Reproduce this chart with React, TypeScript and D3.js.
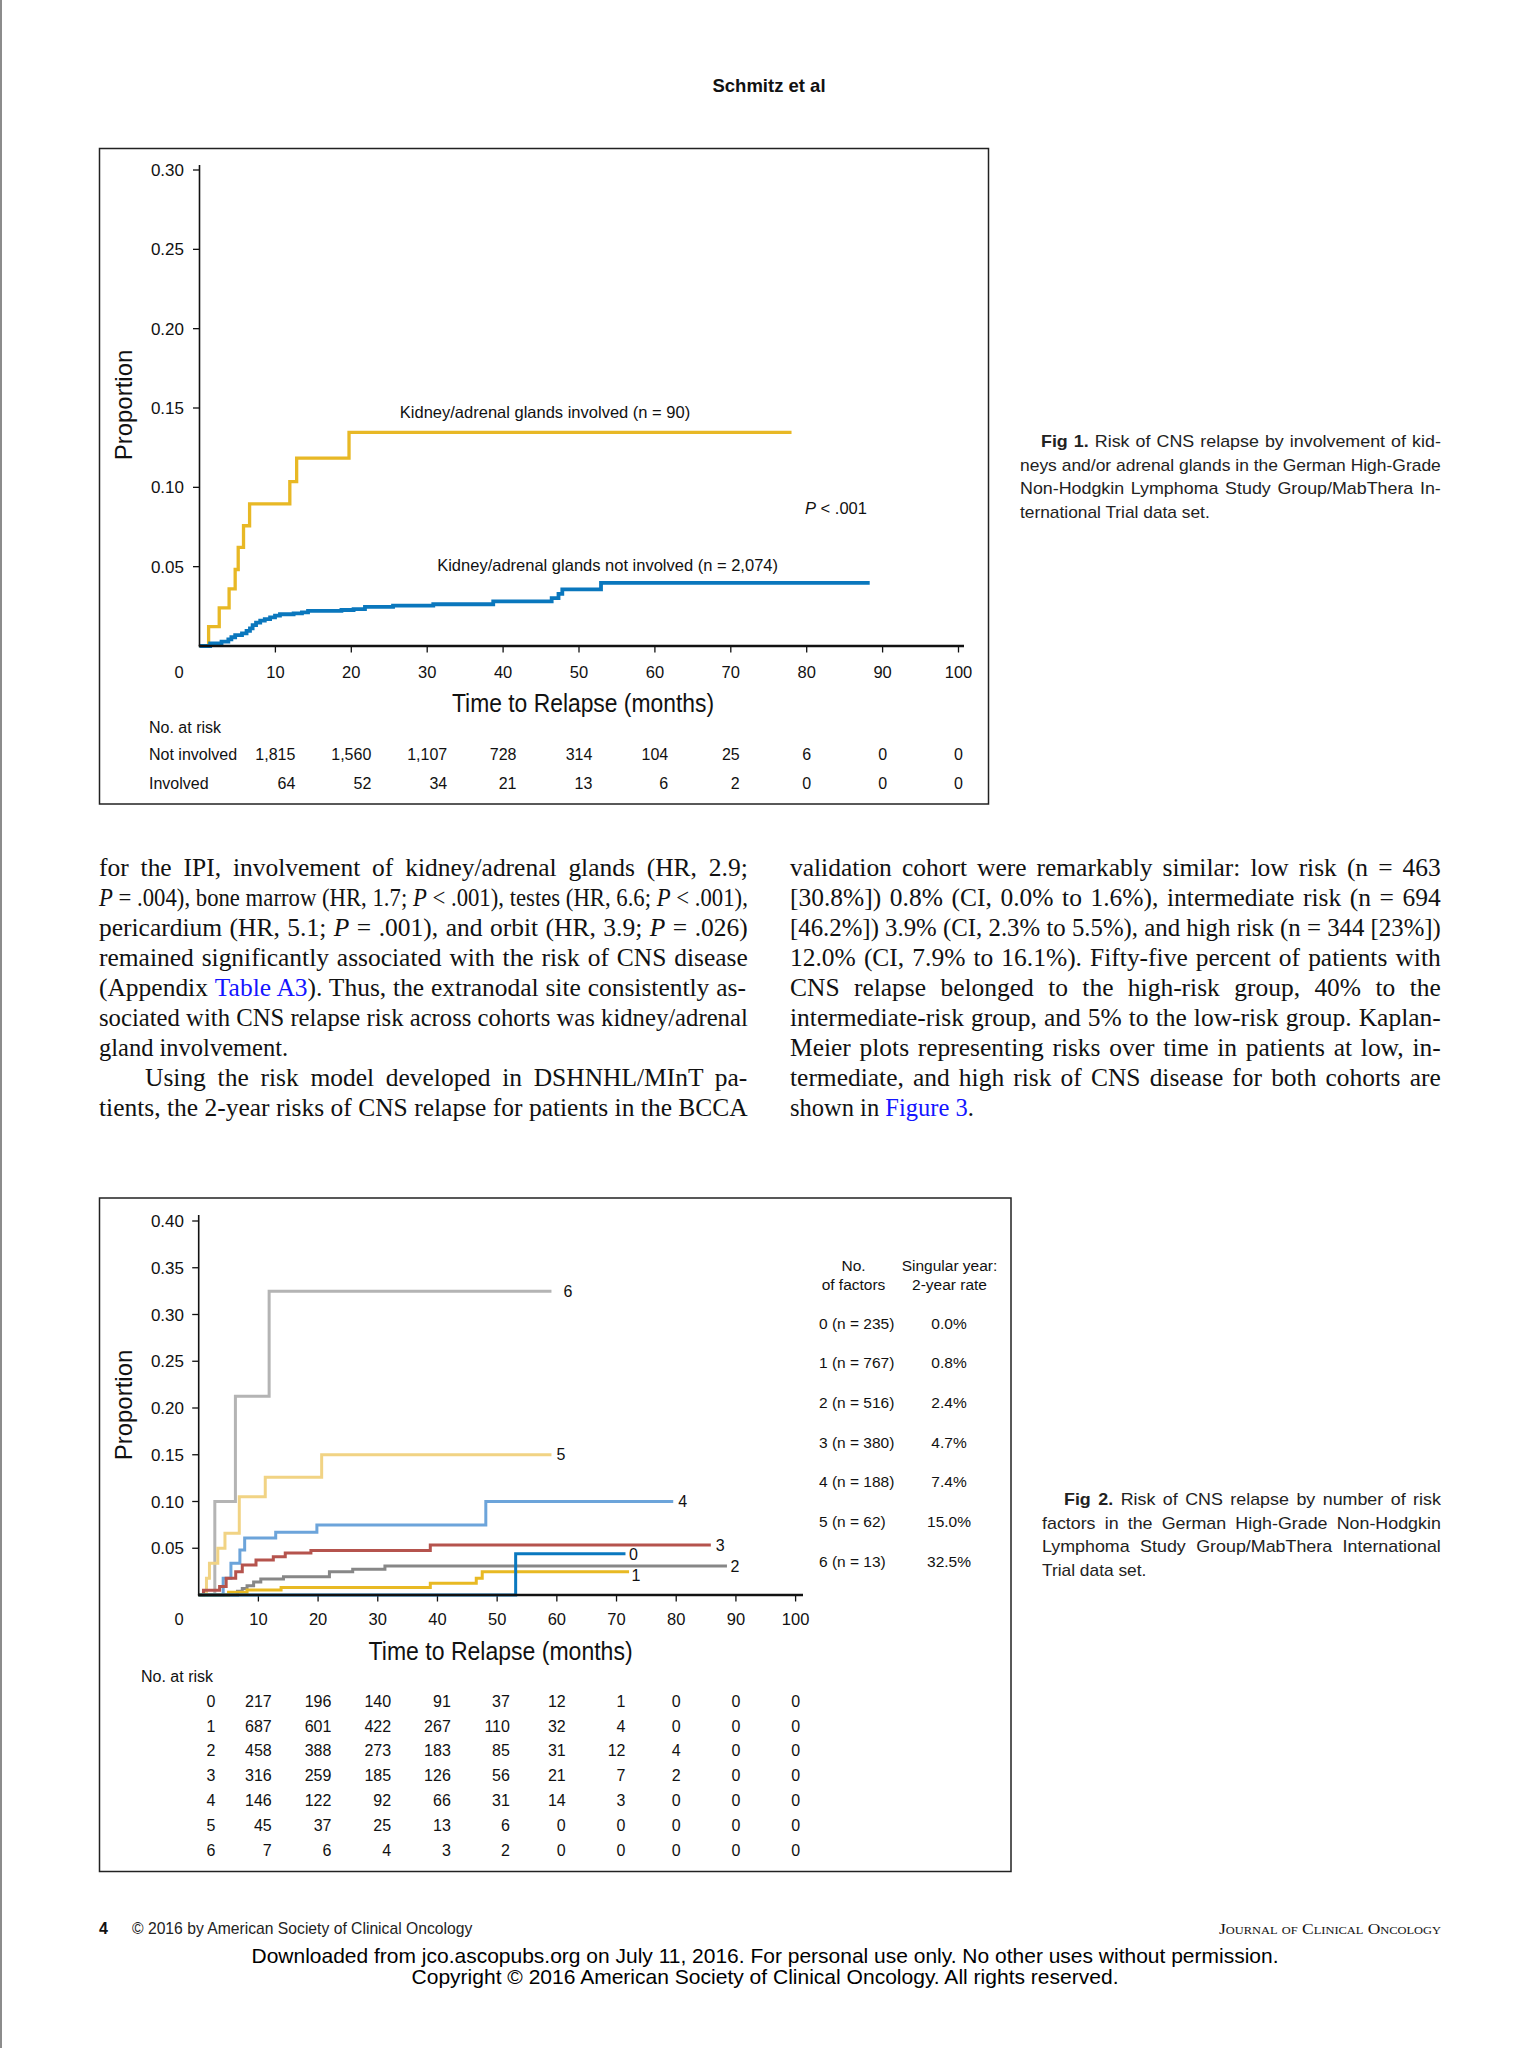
import React from 'react';
import * as d3 from 'd3';

type Pt = [number, number];
type Seg = { t: string; i?: boolean; b?: boolean; link?: boolean; fam?: string };

// ---------------- Figure 1 data ----------------
const fig1XTicks = [10, 20, 30, 40, 50, 60, 70, 80, 90, 100];
const fig1YTicks = [0.05, 0.1, 0.15, 0.2, 0.25, 0.3];
const kidneyInvolved: Pt[] = [
  [0, 0], [1.2, 0.0122], [2.6, 0.024], [3.9, 0.036], [4.7, 0.0482], [5.1, 0.0622],
  [5.8, 0.0758], [6.6, 0.0896], [11.9, 0.1036], [12.8, 0.1184], [19.7, 0.1346], [78.0, 0.1346],
];
const kidneyNotInvolved: Pt[] = [
  [0, 0], [1.4, 0.0017], [2.9, 0.0027], [3.8, 0.0042], [4.2, 0.0055], [4.7, 0.0069], [5.6, 0.008],
  [6.2, 0.0095], [6.65, 0.0111], [7.0, 0.0132], [7.45, 0.0147], [8.0, 0.016], [8.6, 0.017],
  [9.3, 0.0181], [9.95, 0.0191], [10.6, 0.02], [12.4, 0.0206], [13.5, 0.0212], [14.3, 0.0221],
  [18.7, 0.0227], [20.3, 0.0233], [21.8, 0.0246], [25.5, 0.0254], [30.8, 0.0263], [38.7, 0.0281],
  [46.4, 0.0302], [47.3, 0.0328], [47.8, 0.0357], [52.9, 0.0398], [88.3, 0.0398],
];
const riskTimes1 = [10, 20, 30, 40, 50, 60, 70, 80, 90, 100];
const riskNotInvolved = ['1,815', '1,560', '1,107', '728', '314', '104', '25', '6', '0', '0'];
const riskInvolved = ['64', '52', '34', '21', '13', '6', '2', '0', '0', '0'];

// ---------------- Figure 2 data ----------------
const fig2XTicks = [10, 20, 30, 40, 50, 60, 70, 80, 90, 100];
const fig2YTicks = [0.05, 0.1, 0.15, 0.2, 0.25, 0.3, 0.35, 0.4];
const factors0: Pt[] = [[0, 0], [53.1, 0.044], [71.5, 0.044]];
const factors1: Pt[] = [[0, 0], [5.0, 0.003], [8.1, 0.0054], [13.8, 0.008], [38.8, 0.0125], [46.5, 0.018], [47.5, 0.025], [72.1, 0.025]];
const factors2: Pt[] = [[0, 0], [6.5, 0.004], [7.3, 0.007], [8.1, 0.01], [9.2, 0.014], [10.4, 0.017], [14.2, 0.0196], [21.9, 0.025], [25.8, 0.0275], [31.2, 0.031], [88.5, 0.031]];
const factors3: Pt[] = [[0, 0], [0.8, 0.005], [3.5, 0.009], [4.6, 0.018], [6.2, 0.025], [7.3, 0.032], [9.6, 0.0375], [12.5, 0.041], [14.5, 0.045], [18.8, 0.0475], [38.8, 0.0536], [85.8, 0.0536]];
const factors4: Pt[] = [[0, 0], [4.1, 0.018], [5.4, 0.034], [6.9, 0.048], [7.7, 0.061], [12.9, 0.067], [19.8, 0.075], [48.1, 0.1], [79.5, 0.1]];
const factors5: Pt[] = [[0, 0], [1.3, 0.018], [1.8, 0.034], [3.2, 0.05], [4.4, 0.066], [6.8, 0.105], [11.15, 0.126], [20.6, 0.15], [59.1, 0.15]];
const factors6: Pt[] = [[0, 0], [2.7, 0.1], [6.15, 0.2125], [11.8, 0.325], [59.1, 0.325]];
const factorSeries = [factors0, factors1, factors2, factors3, factors4, factors5, factors6];
const factorNames = ['0', '1', '2', '3', '4', '5', '6'];
const factorLegend = ['0 (n = 235)', '1 (n = 767)', '2 (n = 516)', '3 (n = 380)', '4 (n = 188)', '5 (n = 62)', '6 (n = 13)'];
const factorRates = ['0.0%', '0.8%', '2.4%', '4.7%', '7.4%', '15.0%', '32.5%'];
const riskTimes2 = [10, 20, 30, 40, 50, 60, 70, 80, 90, 100];
const riskByFactor = [
  [217, 196, 140, 91, 37, 12, 1, 0, 0, 0],
  [687, 601, 422, 267, 110, 32, 4, 0, 0, 0],
  [458, 388, 273, 183, 85, 31, 12, 4, 0, 0],
  [316, 259, 185, 126, 56, 21, 7, 2, 0, 0],
  [146, 122, 92, 66, 31, 14, 3, 0, 0, 0],
  [45, 37, 25, 13, 6, 0, 0, 0, 0, 0],
  [7, 6, 4, 3, 2, 0, 0, 0, 0, 0],
];

// ---------------- Text content ----------------
const leftColumn: { segs: Seg[]; justify: boolean; indent?: boolean }[] = [
  { segs: [{ t: 'for the IPI, involvement of kidney/adrenal glands (HR, 2.9;' }], justify: true },
  { segs: [{ t: 'P', i: true }, { t: ' = .004), bone marrow (HR, 1.7; ' }, { t: 'P', i: true }, { t: ' < .001), testes (HR, 6.6; ' }, { t: 'P', i: true }, { t: ' < .001),' }], justify: true },
  { segs: [{ t: 'pericardium (HR, 5.1; ' }, { t: 'P', i: true }, { t: ' = .001), and orbit (HR, 3.9; ' }, { t: 'P', i: true }, { t: ' = .026)' }], justify: true },
  { segs: [{ t: 'remained significantly associated with the risk of CNS disease' }], justify: true },
  { segs: [{ t: '(Appendix ' }, { t: 'Table A3', link: true }, { t: '). Thus, the extranodal site consistently as-' }], justify: true },
  { segs: [{ t: 'sociated with CNS relapse risk across cohorts was kidney/adrenal' }], justify: true },
  { segs: [{ t: 'gland involvement.' }], justify: false },
  { segs: [{ t: 'Using the risk model developed in DSHNHL/MInT pa-' }], justify: true, indent: true },
  { segs: [{ t: 'tients, the 2-year risks of CNS relapse for patients in the BCCA' }], justify: true },
];
const rightColumn: { segs: Seg[]; justify: boolean }[] = [
  { segs: [{ t: 'validation cohort were remarkably similar: low risk (n = 463' }], justify: true },
  { segs: [{ t: '[30.8%]) 0.8% (CI, 0.0% to 1.6%), intermediate risk (n = 694' }], justify: true },
  { segs: [{ t: '[46.2%]) 3.9% (CI, 2.3% to 5.5%), and high risk (n = 344 [23%])' }], justify: true },
  { segs: [{ t: '12.0% (CI, 7.9% to 16.1%). Fifty-five percent of patients with' }], justify: true },
  { segs: [{ t: 'CNS relapse belonged to the high-risk group, 40% to the' }], justify: true },
  { segs: [{ t: 'intermediate-risk group, and 5% to the low-risk group. Kaplan-' }], justify: true },
  { segs: [{ t: 'Meier plots representing risks over time in patients at low, in-' }], justify: true },
  { segs: [{ t: 'termediate, and high risk of CNS disease for both cohorts are' }], justify: true },
  { segs: [{ t: 'shown in ' }, { t: 'Figure 3', link: true }, { t: '.' }], justify: false },
];

const SANS = "'Liberation Sans', Arial, Helvetica, sans-serif";
const NARROW = "'Liberation Sans Narrow', 'Liberation Sans', Arial, sans-serif";
const SERIF = "'Liberation Serif', 'Times New Roman', serif";

const fig1Caption: { segs: Seg[]; justify: boolean; first?: boolean }[] = [
  { segs: [{ t: 'Fig 1.', b: true, fam: NARROW }, { t: ' Risk of CNS relapse by involvement of kid-' }], justify: true, first: true },
  { segs: [{ t: 'neys and/or adrenal glands in the German High-Grade' }], justify: true },
  { segs: [{ t: 'Non-Hodgkin Lymphoma Study Group/MabThera In-' }], justify: true },
  { segs: [{ t: 'ternational Trial data set.' }], justify: false },
];
const fig2Caption: { segs: Seg[]; justify: boolean; first?: boolean }[] = [
  { segs: [{ t: 'Fig 2.', b: true, fam: NARROW }, { t: ' Risk of CNS relapse by number of risk' }], justify: true, first: true },
  { segs: [{ t: 'factors in the German High-Grade Non-Hodgkin' }], justify: true },
  { segs: [{ t: 'Lymphoma Study Group/MabThera International' }], justify: true },
  { segs: [{ t: 'Trial data set.' }], justify: false },
];

// ---------------- Styling ----------------
const factorColors = ['#0a78bf', '#e8b923', '#878787', '#b5534d', '#6ca4da', '#f1d384', '#b4b4b4'];
const factorLabelOffset: Pt[] = [[3.5, 0], [2.5, 3.5], [3.5, 0], [5, 0], [5, 0], [5, 0], [12, 0]];
const drawOrder = [6, 5, 4, 3, 2, 1, 0];

let measureCtx: CanvasRenderingContext2D | null = null;
function textWidth(t: string, font: string): number {
  if (typeof document === 'undefined') return t.length * 8;
  if (!measureCtx) measureCtx = document.createElement('canvas').getContext('2d');
  if (!measureCtx) return t.length * 8;
  measureCtx.font = font;
  return measureCtx.measureText(t).width;
}

function TextLine(props: {
  x: number; y: number; width?: number; segs: Seg[]; size: number; family: string;
  justify: boolean; fill?: string; stretch?: number; baseScale?: number;
}) {
  const { x, y, width, segs, size, family, justify, fill = '#111', stretch = 1, baseScale = 1 } = props;
  const fontOf = (g: Seg) => `${g.i ? 'italic ' : ''}${g.b ? 'bold ' : ''}${size}px ${g.fam || family}`;
  const natural = segs.reduce((s, g) => s + textWidth(g.t, fontOf(g)), 0);
  const spaces = segs.reduce((s, g) => s + (g.t.split(' ').length - 1), 0);
  let ws = 0;
  let sc = baseScale;
  if (width) {
    if (justify) {
      const ratio = width / natural;
      if (ratio >= 1) {
        sc = Math.min(ratio, stretch);
        const rest = width / sc - natural;
        ws = spaces ? rest / spaces : 0;
      } else sc = ratio;
    } else if (natural * sc > width) sc = width / natural;
  }
  return (
    <text
      transform={`translate(${x},${y}) scale(${sc},1)`}
      fontSize={size}
      fontFamily={family}
      fill={fill}
      style={{ whiteSpace: 'pre', wordSpacing: `${ws}px` }}
    >
      {segs.map((g, k) => (
        <tspan
          key={k}
          fontStyle={g.i ? 'italic' : undefined}
          fontWeight={g.b ? 'bold' : undefined}
          fontFamily={g.fam}
          fill={g.link ? '#1414ff' : undefined}
        >
          {g.t}
        </tspan>
      ))}
    </text>
  );
}

export default function App() {
  const x1 = d3.scaleLinear().domain([0, 100]).range([199.5, 958.5]);
  const y1 = d3.scaleLinear().domain([0, 0.3]).range([646, 170]);
  const line1 = d3.line<Pt>().x((d) => x1(d[0])).y((d) => y1(d[1])).curve(d3.curveStepAfter);

  const x2 = d3.scaleLinear().domain([0, 100]).range([198.7, 795.6]);
  const y2 = d3.scaleLinear().domain([0, 0.4]).range([1595, 1221]);
  const line2 = d3.line<Pt>().x((d) => x2(d[0])).y((d) => y2(d[1])).curve(d3.curveStepAfter);

  const tableFont = `16px ${SANS}`;
  const fmt2 = d3.format('.2f');

  const riskCols1 = riskTimes1.map((t, j) => {
    const vals = [riskNotInvolved[j], riskInvolved[j]];
    const w = Math.max(...vals.map((v) => textWidth(v, tableFont)));
    return { x: x1(t) + w / 2, vals };
  });
  const riskCols2 = riskTimes2.map((t, j) => {
    const vals = riskByFactor.map((r) => String(r[j]));
    const w = Math.max(...vals.map((v) => textWidth(v, tableFont)));
    return { x: x2(t) + w / 2, vals };
  });

  const lh = 30;
  const bodyTop = 875.5;
  const bodySize = 24.5;

  return (
    <svg width={1536} height={2048} style={{ position: 'absolute', left: 0, top: 0 }}>
      <rect x={0} y={0} width={1536} height={2048} fill="#ffffff" />
      <rect x={0} y={0} width={2} height={2048} fill="#8c8c8c" />

      <text x={769} y={91.5} textAnchor="middle" fontFamily={SANS} fontWeight="bold" fontSize={18.5} fill="#111">
        Schmitz et al
      </text>

      {/* ================= Figure 1 ================= */}
      <rect x={99.5} y={148.5} width={889} height={655.5} fill="none" stroke="#222" strokeWidth={1.5} />
      <g fontFamily={SANS} fill="#111">
        {fig1YTicks.map((v) => (
          <g key={v}>
            <line x1={x1(0) - 6.5} x2={x1(0)} y1={y1(v)} y2={y1(v)} stroke="#111" strokeWidth={1.3} />
            <text x={184} y={y1(v) + 6} textAnchor="end" fontSize={17}>{fmt2(v)}</text>
          </g>
        ))}
        {fig1XTicks.map((v) => (
          <g key={v}>
            <line x1={x1(v)} x2={x1(v)} y1={y1(0)} y2={y1(0) + 6.5} stroke="#111" strokeWidth={1.3} />
            <text x={x1(v)} y={678} textAnchor="middle" fontSize={16.5}>{v}</text>
          </g>
        ))}
        <text x={179} y={678} textAnchor="middle" fontSize={16.5}>0</text>
      </g>
      <path d={line1(kidneyInvolved) || ''} fill="none" stroke="#e8b825" strokeWidth={3.3} />
      <path d={line1(kidneyNotInvolved) || ''} fill="none" stroke="#0a77bd" strokeWidth={3.8} />
      <line x1={x1(0)} x2={x1(0)} y1={165} y2={y1(0)} stroke="#111" strokeWidth={1.6} />
      <line x1={x1(0) - 0.8} x2={964} y1={y1(0)} y2={y1(0)} stroke="#111" strokeWidth={2.4} />

      <text transform="translate(132,405) rotate(-90)" textAnchor="middle" fontFamily={SANS} fontSize={24} fill="#111">Proportion</text>
      <text x={583} y={712} textAnchor="middle" fontFamily={NARROW} fontSize={25} fill="#111" textLength={262} lengthAdjust="spacingAndGlyphs">Time to Relapse (months)</text>

      <g fontFamily={SANS} fontSize={16.5} fill="#111">
        <text x={545} y={418} textAnchor="middle">Kidney/adrenal glands involved (n = 90)</text>
        <text x={805} y={514}><tspan fontStyle="italic">P</tspan> &lt; .001</text>
        <text x={607.6} y={571} textAnchor="middle">Kidney/adrenal glands not involved (n = 2,074)</text>
      </g>

      <g fontFamily={SANS} fontSize={16} fill="#111">
        <text x={149} y={732.5}>No. at risk</text>
        <text x={149} y={759.7}>Not involved</text>
        <text x={149} y={788.7}>Involved</text>
        {riskCols1.map((c, j) => (
          <g key={j}>
            <text x={c.x} y={759.7} textAnchor="end">{c.vals[0]}</text>
            <text x={c.x} y={788.7} textAnchor="end">{c.vals[1]}</text>
          </g>
        ))}
      </g>

      {fig1Caption.map((ln, k) => (
        <TextLine
          key={k}
          x={ln.first ? 1041 : 1020}
          y={447 + k * 23.5}
          width={ln.justify ? (ln.first ? 400 : 421) : 421}
          segs={ln.segs}
          size={17}
          family={SANS}
          justify={ln.justify}
          fill="#222"
          stretch={1.05}
          baseScale={1.02}
        />
      ))}

      {/* ================= Body text ================= */}
      {leftColumn.map((ln, k) => (
        <TextLine
          key={k}
          x={ln.indent ? 145 : 99}
          y={bodyTop + k * lh}
          width={ln.indent ? 603 : 649}
          segs={ln.segs}
          size={bodySize}
          family={SERIF}
          justify={ln.justify}
          stretch={1.04}
          baseScale={1.0}
        />
      ))}
      {rightColumn.map((ln, k) => (
        <TextLine
          key={k}
          x={790}
          y={bodyTop + k * lh}
          width={651}
          segs={ln.segs}
          size={bodySize}
          family={SERIF}
          justify={ln.justify}
          stretch={1.04}
          baseScale={1.0}
        />
      ))}

      {/* ================= Figure 2 ================= */}
      <rect x={99.5} y={1198} width={911.5} height={673.5} fill="none" stroke="#222" strokeWidth={1.5} />
      <g fontFamily={SANS} fill="#111">
        {fig2YTicks.map((v) => (
          <g key={v}>
            <line x1={x2(0) - 6.5} x2={x2(0)} y1={y2(v)} y2={y2(v)} stroke="#111" strokeWidth={1.3} />
            <text x={184} y={y2(v) + 6} textAnchor="end" fontSize={17}>{fmt2(v)}</text>
          </g>
        ))}
        {fig2XTicks.map((v) => (
          <g key={v}>
            <line x1={x2(v)} x2={x2(v)} y1={y2(0)} y2={y2(0) + 6.5} stroke="#111" strokeWidth={1.3} />
            <text x={x2(v)} y={1625} textAnchor="middle" fontSize={16.5}>{v}</text>
          </g>
        ))}
        <text x={179} y={1625} textAnchor="middle" fontSize={16.5}>0</text>
      </g>
      {drawOrder.map((k) => (
        <path key={k} d={line2(factorSeries[k]) || ''} fill="none" stroke={factorColors[k]} strokeWidth={3} />
      ))}
      <line x1={x2(0)} x2={x2(0)} y1={1215} y2={y2(0)} stroke="#111" strokeWidth={1.6} />
      <line x1={x2(0) - 0.8} x2={803} y1={y2(0)} y2={y2(0)} stroke="#111" strokeWidth={2.4} />
      <g fontFamily={SANS} fontSize={16} fill="#111">
        {factorSeries.map((s, k) => {
          const last = s[s.length - 1];
          return (
            <text key={k} x={x2(last[0]) + factorLabelOffset[k][0]} y={y2(last[1]) + factorLabelOffset[k][1] + 5.7}>
              {factorNames[k]}
            </text>
          );
        })}
      </g>

      <text transform="translate(132,1405) rotate(-90)" textAnchor="middle" fontFamily={SANS} fontSize={24} fill="#111">Proportion</text>
      <text x={500.6} y={1660} textAnchor="middle" fontFamily={NARROW} fontSize={25} fill="#111" textLength={264} lengthAdjust="spacingAndGlyphs">Time to Relapse (months)</text>

      <g fontFamily={SANS} fontSize={15.5} fill="#111">
        <text x={853.5} y={1270.5} textAnchor="middle">No.</text>
        <text x={853.5} y={1289.5} textAnchor="middle">of factors</text>
        <text x={949.5} y={1270.5} textAnchor="middle">Singular year:</text>
        <text x={949.5} y={1289.5} textAnchor="middle">2-year rate</text>
        {factorLegend.map((lbl, k) => (
          <g key={k}>
            <text x={819} y={1323 + k * 39.7 + 5.5}>{lbl}</text>
            <text x={949} y={1323 + k * 39.7 + 5.5} textAnchor="middle">{factorRates[k]}</text>
          </g>
        ))}
      </g>

      <g fontFamily={SANS} fontSize={16} fill="#111">
        <text x={141} y={1681.7}>No. at risk</text>
        {factorNames.map((n, k) => (
          <text key={k} x={211} y={1701 + k * 24.8 + 5.7} textAnchor="middle">{n}</text>
        ))}
        {riskCols2.map((c, j) => (
          <g key={j}>
            {c.vals.map((v, k) => (
              <text key={k} x={c.x} y={1701 + k * 24.8 + 5.7} textAnchor="end">{v}</text>
            ))}
          </g>
        ))}
      </g>

      {fig2Caption.map((ln, k) => (
        <TextLine
          key={k}
          x={ln.first ? 1064 : 1042}
          y={1505 + k * 23.5}
          width={ln.justify ? (ln.first ? 377 : 399) : 399}
          segs={ln.segs}
          size={17}
          family={SANS}
          justify={ln.justify}
          fill="#222"
          stretch={1.05}
          baseScale={1.02}
        />
      ))}

      {/* ================= Footer ================= */}
      <text x={99} y={1933.5} fontFamily={NARROW} fontWeight="bold" fontSize={16} fill="#111">4</text>
      <text x={132} y={1933.5} fontFamily={SANS} fontSize={15.7} fill="#222">© 2016 by American Society of Clinical Oncology</text>
      <text x={1441} y={1933.5} textAnchor="end" fontFamily={SERIF} fontSize={15.5} fill="#111" style={{ fontVariant: 'small-caps' }} textLength={222} lengthAdjust="spacingAndGlyphs">Journal of Clinical Oncology</text>
      <text x={765} y={1963} textAnchor="middle" fontFamily={SANS} fontSize={21} fill="#000" textLength={1027} lengthAdjust="spacingAndGlyphs">Downloaded from jco.ascopubs.org on July 11, 2016. For personal use only. No other uses without permission.</text>
      <text x={765} y={1983.5} textAnchor="middle" fontFamily={SANS} fontSize={21} fill="#000" textLength={707} lengthAdjust="spacingAndGlyphs">Copyright © 2016 American Society of Clinical Oncology. All rights reserved.</text>
    </svg>
  );
}
